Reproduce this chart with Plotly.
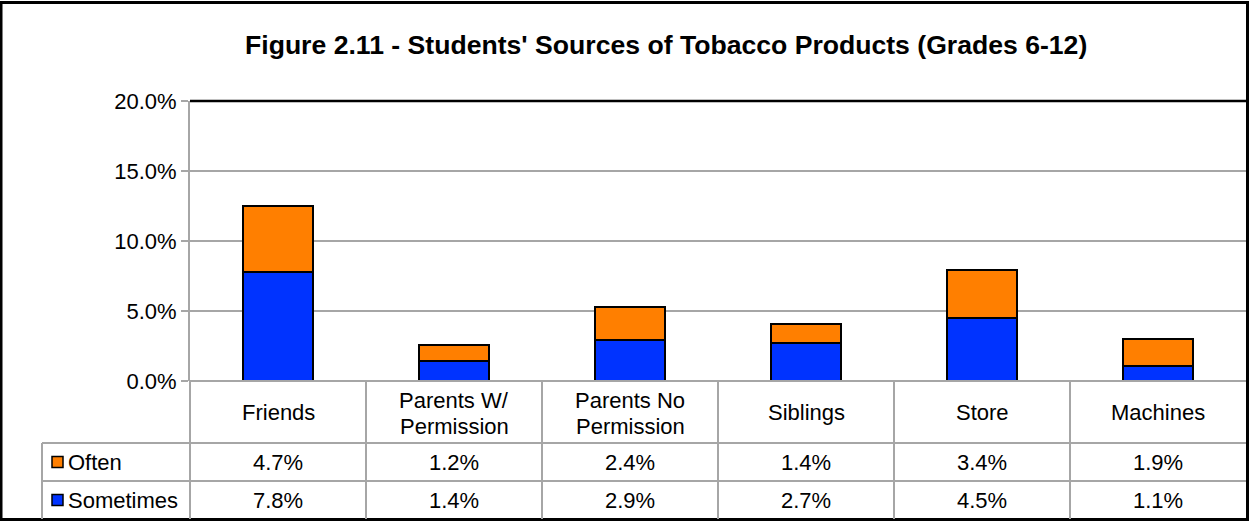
import plotly.graph_objects as go

categories = ["Friends", "Parents W/<br>Permission", "Parents No<br>Permission", "Siblings", "Store", "Machines"]
often = [4.7, 1.2, 2.4, 1.4, 3.4, 1.9]
sometimes = [7.8, 1.4, 2.9, 2.7, 4.5, 1.1]
series_names = ["Often", "Sometimes"]
ytick_vals = [0, 5, 10, 15, 20]

W, H = 1249, 521
L, R, T, B = 190, 1246, 101, 381
PW, PH = R - L, B - T

def px(x):
    return (x - L) / PW

def py(y):
    return (B - y) / PH

ORANGE = "#FF7F00"
BLUE = "#0033FF"
GRID = "#A6A6A6"
FONT = "Liberation Sans, Arial, sans-serif"
FS = 22

fig = go.Figure()
fig.add_trace(go.Bar(x=list(range(len(categories))), y=sometimes, name=series_names[1],
                     marker=dict(color=BLUE, line=dict(color="black", width=2)), width=0.4))
fig.add_trace(go.Bar(x=list(range(len(categories))), y=often, name=series_names[0],
                     marker=dict(color=ORANGE, line=dict(color="black", width=2)), width=0.4))

shapes = []
shapes.append(dict(type="rect", xref="paper", yref="paper",
                   x0=px(1), x1=px(1247.5), y0=py(519.5), y1=py(2.5),
                   line=dict(color="black", width=3), layer="above"))
shapes.append(dict(type="line", xref="paper", yref="paper",
                   x0=px(L), x1=px(1247), y0=py(T), y1=py(T),
                   line=dict(color="black", width=2.5), layer="above"))
n = len(categories)
col_w = PW / n
for i in range(n):
    xx = L + i * col_w
    shapes.append(dict(type="line", xref="paper", yref="paper",
                       x0=px(xx), x1=px(xx), y0=py(B), y1=py(519),
                       line=dict(color=GRID, width=2), layer="above"))
shapes.append(dict(type="line", xref="paper", yref="paper",
                   x0=px(42), x1=px(42), y0=py(443), y1=py(519),
                   line=dict(color=GRID, width=2), layer="above"))
for yy in (443, 481):
    shapes.append(dict(type="line", xref="paper", yref="paper",
                       x0=px(42), x1=px(1246), y0=py(yy), y1=py(yy),
                       line=dict(color=GRID, width=2), layer="above"))
shapes.append(dict(type="line", xref="paper", yref="paper",
                   x0=px(L), x1=px(1246), y0=py(B), y1=py(B),
                   line=dict(color=GRID, width=2), layer="above"))

def ann(text, x, y, xref="paper", xanchor="center", size=FS, **kw):
    return dict(text=text, xref=xref, yref="paper", x=x, y=y, xanchor=xanchor,
                yanchor="middle", showarrow=False,
                font=dict(size=size, color="black", family=FONT), **kw)

annotations = []
annotations.append(ann("<b>Figure 2.11 - Students' Sources of Tobacco Products (Grades 6-12)</b>",
                       px(666), py(45), size=26.6))
row_y = {"cat": 412, "Often": 462, "Sometimes": 500}
for i, c in enumerate(categories):
    lines = c.split("<br>")
    if len(lines) == 1:
        annotations.append(ann(c, i, py(row_y["cat"]), xref="x"))
    else:
        annotations.append(ann(lines[0], i, py(400), xref="x"))
        annotations.append(ann(lines[1], i, py(426), xref="x"))
    annotations.append(ann(f"{often[i]:.1f}%", i, py(row_y["Often"]), xref="x"))
    annotations.append(ann(f"{sometimes[i]:.1f}%", i, py(row_y["Sometimes"]), xref="x"))
for name, col in zip(series_names, [ORANGE, BLUE]):
    yc = row_y[name]
    shapes.append(dict(type="rect", xref="paper", yref="paper",
                       x0=px(52), x1=px(63), y0=py(yc + 5.5), y1=py(yc - 5.5),
                       fillcolor=col, line=dict(color="black", width=1.5), layer="above"))
    annotations.append(ann(name, px(66), py(yc), xanchor="left"))

fig.update_layout(
    width=W, height=H,
    margin=dict(l=L, r=W - R, t=T, b=H - B, pad=0),
    barmode="stack",
    showlegend=False,
    paper_bgcolor="white", plot_bgcolor="white",
    font=dict(family=FONT, size=FS, color="black"),
    shapes=shapes, annotations=annotations,
    xaxis=dict(range=[-0.5, n - 0.5], showticklabels=False, showgrid=False,
               zeroline=False, showline=False, ticks=""),
    yaxis=dict(range=[0, 20], tickmode="array", tickvals=ytick_vals,
               ticktext=[f"{v:.1f}%" for v in ytick_vals],
               showgrid=True, gridcolor=GRID, gridwidth=2, zeroline=False,
               showline=True, linecolor=GRID, linewidth=2,
               ticks="outside", ticklen=7, tickcolor=GRID, tickwidth=2,
               tickfont=dict(size=FS, color="black", family=FONT)),
)

fig.write_html("out.html", config={"displayModeBar": False},
               post_script="document.body.style.margin='0';document.body.style.padding='0';")
